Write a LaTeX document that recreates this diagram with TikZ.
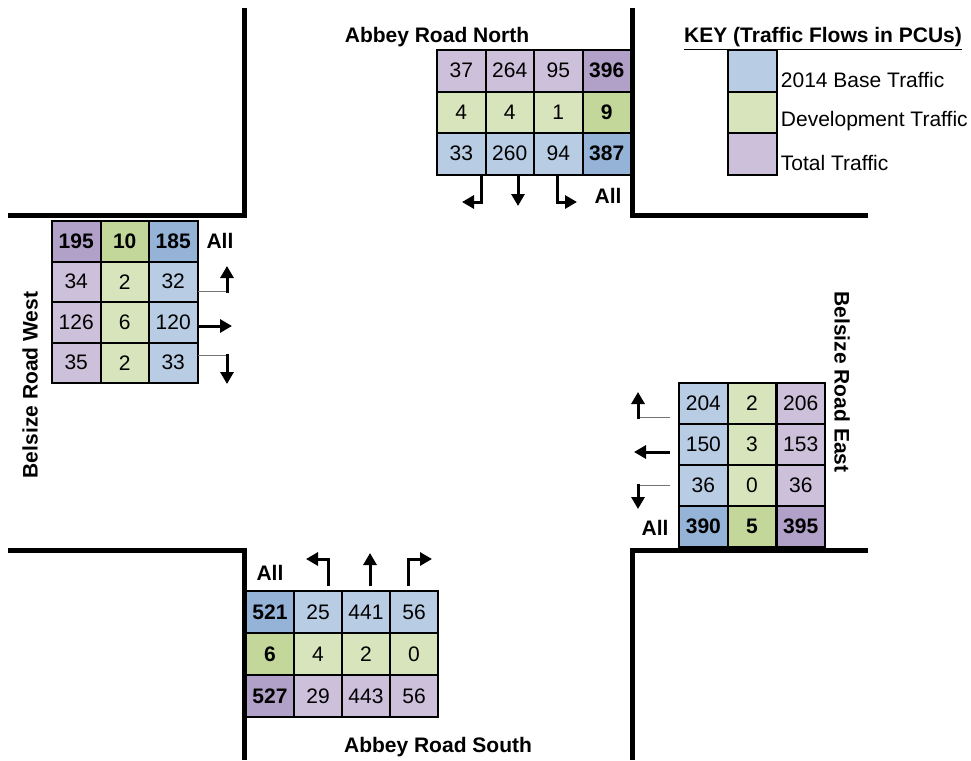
\documentclass[tikz,border=0pt]{standalone}
\usepackage{fontspec}
\setmainfont{Liberation Sans}
\usetikzlibrary{arrows.meta}
\definecolor{baselt}{HTML}{B8CCE4}
\definecolor{basedk}{HTML}{95B3D7}
\definecolor{devlt}{HTML}{D8E4BC}
\definecolor{devdk}{HTML}{C4D79B}
\definecolor{totlt}{HTML}{CCC0DA}
\definecolor{totdk}{HTML}{B1A0C7}

\begin{document}
\begin{tikzpicture}[
  x=1pt,
  y=-1pt,
  every node/.style={font=\fontsize{21}{25}\selectfont, inner sep=0pt},
  kerb/.style={line width=5pt, line join=miter},
  cell/.style={draw, line width=2pt, minimum width=48.5pt,
               minimum height=41.5pt},
  basecell/.style={cell, fill=baselt},
  devcell/.style={cell, fill=devlt},
  totcell/.style={cell, fill=totlt},
  basetotal/.style={cell, fill=basedk, font=\fontsize{21}{25}\selectfont\bfseries},
  devtotal/.style={cell, fill=devdk, font=\fontsize{21}{25}\selectfont\bfseries},
  tottotal/.style={cell, fill=totdk, font=\fontsize{21}{25}\selectfont\bfseries},
  roadname/.style={font=\fontsize{21}{25}\selectfont\bfseries},
  turn/.style={line width=3pt, -{Triangle[length=12pt, width=13pt]}},
  stub/.style={black!55, line width=1pt}
]
  \useasboundingbox (0,0) rectangle (971,760);

  %% ---- kerb lines of the four corners ---------------------------------
  \draw[kerb] (244,8) -- (244,215) -- (8,215);
  \draw[kerb] (632,8) -- (632,215) -- (868,215);
  \draw[kerb] (8,550) -- (244,550) -- (244,760);
  \draw[kerb] (868,550) -- (632,550) -- (632,760);

  %% ---- Abbey Road North -----------------------------------------------
  \node[roadname, anchor=base] (northname) at (437,43) {Abbey Road North};
  \foreach \c/\r/\v/\s in {0/0/37/totcell, 1/0/264/totcell, 2/0/95/totcell,
      3/0/396/tottotal, 0/1/4/devcell, 1/1/4/devcell, 2/1/1/devcell,
      3/1/9/devtotal, 0/2/33/basecell, 1/2/260/basecell, 2/2/94/basecell,
      3/2/387/basetotal}
    \node[\s] (n-\c-\r) at ({437+48.5*\c+24.25}, {50+41.5*\r+20.75}) {\v};
  \draw[turn] (481,175) -- (481,202) -- (462,202);
  \draw[turn] (518,175) -- (518,206);
  \draw[turn] (557,175) -- (557,202) -- (577,202);
  \node[roadname] (nall) at (608,196) {All};

  %% ---- Belsize Road West ----------------------------------------------
  \node[roadname, rotate=90] (westname) at (30,385) {Belsize Road West};
  \begin{scope}[cell/.append style={minimum height=40.5pt}]
    \foreach \c/\r/\v/\s in {0/0/195/tottotal, 1/0/10/devtotal,
        2/0/185/basetotal, 0/1/34/totcell, 1/1/2/devcell, 2/1/32/basecell,
        0/2/126/totcell, 1/2/6/devcell, 2/2/120/basecell, 0/3/35/totcell,
        1/3/2/devcell, 2/3/33/basecell}
      \node[\s] (w-\c-\r) at ({52+48.5*\c+24.25}, {221+40.5*\r+20.25}) {\v};
  \end{scope}
  \node[roadname] (wall) at (220,241) {All};
  \draw[stub] (198,291.5) -- (227,291.5);
  \draw[turn] (227,293) -- (227,266);
  \draw[turn] (198,326) -- (232,326);
  \draw[stub] (198,355) -- (227,355);
  \draw[turn] (227,353.5) -- (227,384);

  %% ---- Belsize Road East ----------------------------------------------
  \node[roadname, rotate=-90] (eastname) at (842,382) {Belsize Road East};
  \foreach \c/\r/\v/\s in {0/0/204/basecell, 1/0/2/devcell, 2/0/206/totcell,
      0/1/150/basecell, 1/1/3/devcell, 2/1/153/totcell, 0/2/36/basecell,
      1/2/0/devcell, 2/2/36/totcell, 0/3/390/basetotal, 1/3/5/devtotal,
      2/3/395/tottotal}
    \node[\s] (e-\c-\r) at ({679+48.7*\c+24.35}, {383+41*\r+20.5}) {\v};
  \node[roadname] (eall) at (655,528) {All};
  \draw[stub] (670,417) -- (638,417);
  \draw[turn] (638,418.5) -- (638,392);
  \draw[turn] (670,452) -- (634,452);
  \draw[stub] (670,485) -- (638,485);
  \draw[turn] (638,483.5) -- (638,509);

  %% ---- Abbey Road South -----------------------------------------------
  \node[roadname, anchor=base] (southname) at (438,752) {Abbey Road South};
  \foreach \c/\r/\v/\s in {0/0/521/basetotal, 1/0/25/basecell,
      2/0/441/basecell, 3/0/56/basecell, 0/1/6/devtotal, 1/1/4/devcell,
      2/1/2/devcell, 3/1/0/devcell, 0/2/527/tottotal, 1/2/29/totcell,
      2/2/443/totcell, 3/2/56/totcell}
    \node[\s] (s-\c-\r) at ({246+48*\c+24}, {591+42*\r+21}) {\v};
  \node[roadname] (sall) at (270,573) {All};
  \draw[turn] (328,586) -- (328,559) -- (306,559);
  \draw[turn] (370,586) -- (370,553);
  \draw[turn] (408,586) -- (408,559) -- (432,559);

  %% ---- key, top right -------------------------------------------------
  % text rows sit a little below the middle of their boxes
  \node[roadname, anchor=base] (keyhead) at (823,43)
    {\underline{KEY (Traffic Flows in PCUs)}};
  \foreach \r/\s/\t in {0/basecell/2014 Base Traffic,
      1/devcell/Development Traffic, 2/totcell/Total Traffic} {
    \node[\s] (k-\r) at (752.5, {50+41.5*\r+20.75}) {};
    \node[anchor=west] (kt-\r) at ([xshift=3pt, yshift=-9pt]k-\r.east) {\t};
  }

\end{tikzpicture}
\end{document}
